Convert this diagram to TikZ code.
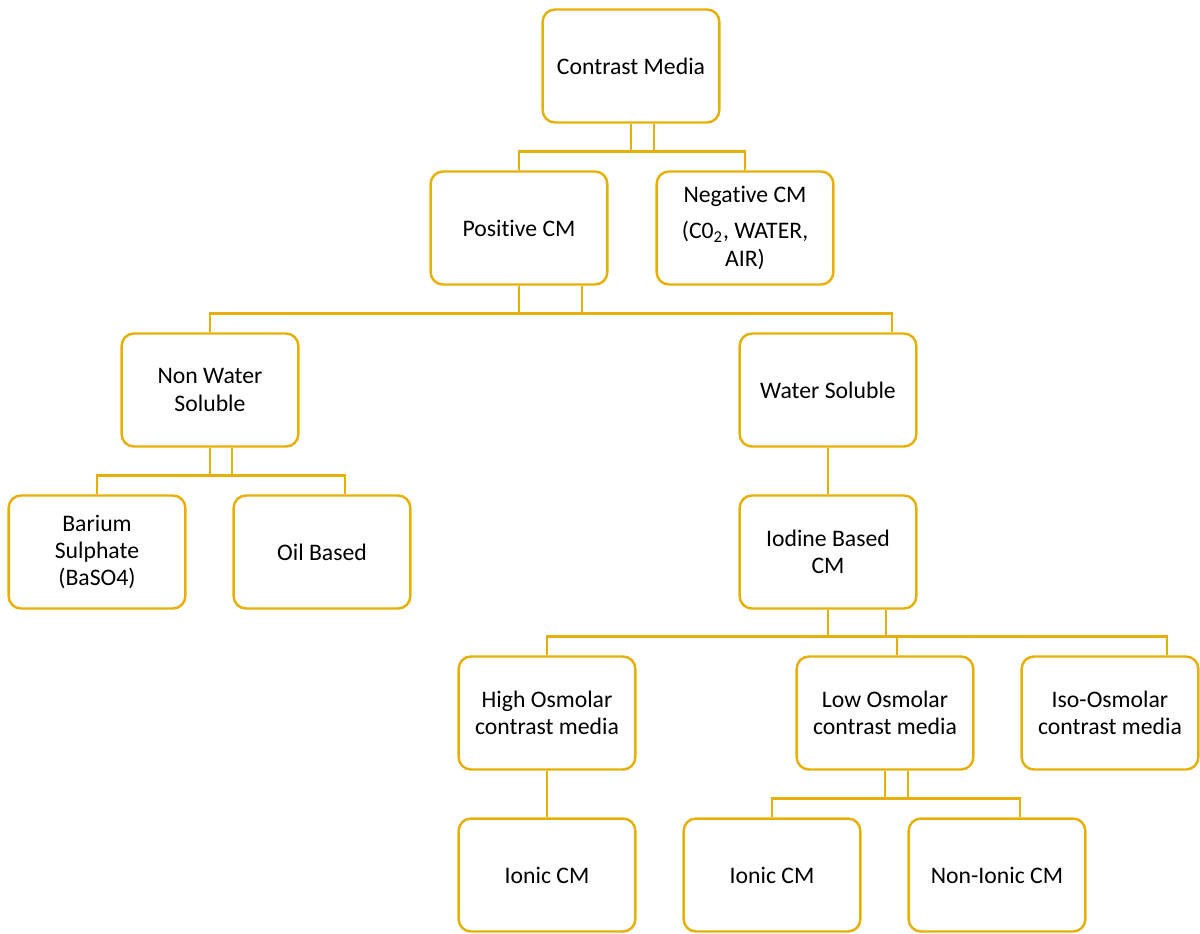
\documentclass[tikz,border=0pt]{standalone}
\usepackage{fontspec}
\setmainfont{Carlito}[Ligatures=NoCommon]
\usetikzlibrary{calc}
\definecolor{gold}{RGB}{231,176,8}
\tikzset{
	box/.style={draw=gold, line width=1.4pt, rounded corners=7pt, fill=white,
		minimum width=3.46cm, minimum height=2.26cm, text width=3.3cm, align=flush center,
		font=\fontsize{13.5}{15.5}\selectfont},
	link/.style={draw=gold, line width=1.4pt}
}
\begin{document}
\begin{tikzpicture}[x=0.02cm,y=-0.02cm]
	\useasboundingbox (0,0) rectangle (1200,933);

	\node[box] (cm)   at (631,66)  {Contrast Media};
	\node[box] (pos)  at (519,228) {Positive CM};
	\node[box] (neg)  at (745,228) {Negative CM\\[5pt](C0\textsubscript{2}, WATER,\\AIR)};
	\node[box] (nws)  at (210,390) {Non Water\\Soluble};
	\node[box] (ws)   at (828,390) {Water Soluble};
	\node[box] (ba)   at (97,552)  {Barium\\Sulphate\\(BaSO4)};
	\node[box] (oil)  at (322,552) {Oil Based};
	\node[box] (iod)  at (828,552) {Iodine Based\\CM};
	\node[box] (high) at (547,713) {High Osmolar\\contrast media};
	\node[box] (low)  at (885,713) {Low Osmolar\\contrast media};
	\node[box] (iso)  at (1110,713) {Iso-Osmolar\\contrast media};
	\node[box] (ion1) at (547,875) {Ionic CM};
	\node[box] (ion2) at (772,875) {Ionic CM};
	\node[box] (nion) at (997,875) {Non-Ionic CM};

	% elbow links: parent/child/shift at parent/shift at child
	\foreach \p/\c/\dx/\ex in {cm/pos/23/0, cm/neg/0/0, pos/nws/63/0, pos/ws/0/64,
		nws/ba/22/0, nws/oil/0/23, iod/high/58/0, iod/low/0/12, iod/iso/0/57,
		low/ion2/23/0, low/nion/0/23} {
		\draw[link] ($(\p.south)+(\dx,0)$) |- ($(\c.north)+(\ex,-19)$) -- ($(\c.north)+(\ex,0)$);
	}
	\draw[link] (ws) -- (iod);
	\draw[link] (high) -- (ion1);
\end{tikzpicture}
\end{document}
